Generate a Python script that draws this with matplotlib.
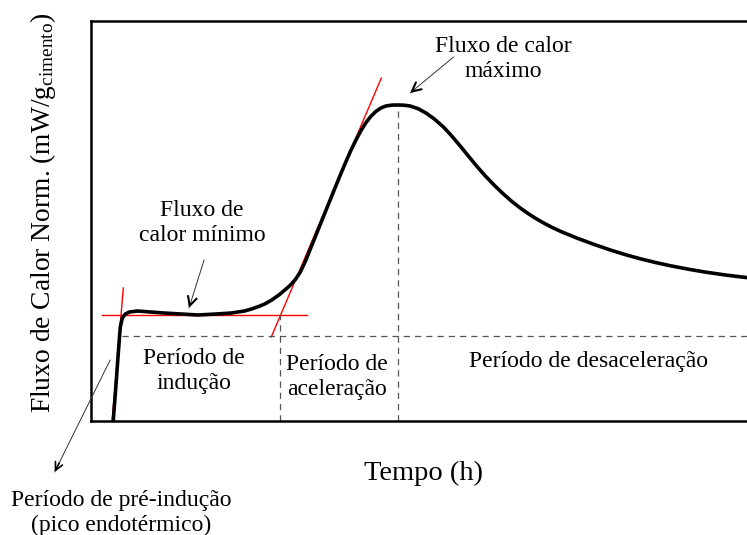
import matplotlib.pyplot as plt

plt.rcParams['font.family'] = ['Liberation Serif', 'DejaVu Serif']
plt.rcParams['mathtext.fontset'] = 'custom'
plt.rcParams['mathtext.rm'] = 'Liberation Serif'
plt.rcParams['mathtext.it'] = 'Liberation Serif:italic'

# curva de fluxo de calor (unidades arbitrarias)
tempo = [22, 24, 26, 28, 29, 31, 34, 38, 46, 59, 72, 89, 106, 124, 139, 152,
         159, 166, 172, 179, 186, 192, 197, 202, 207, 212, 217, 222, 227, 232,
         237, 242, 247, 252, 257, 262, 267, 272, 277, 282, 287, 292, 298, 304,
         310, 316, 324, 332, 340, 349, 357, 366, 374, 382, 390, 399, 407, 416,
         424, 432, 440, 449, 457, 466, 482, 499, 514, 529, 544, 559, 574, 592,
         609, 629, 656]
fluxo = [0, 26, 54, 81, 94, 103, 107, 109, 110, 109, 108, 107, 106, 107, 108,
         110, 112, 114.5, 117, 121, 126, 131, 135.5, 141, 148.5, 159, 171.5,
         184, 196.5, 209, 221.5, 234, 246.3, 258.3, 269.8, 280.3, 289.8, 298,
         304.5, 309.5, 313, 315, 315.9, 316, 315.8, 315, 312.3, 307.8, 302, 294,
         285.3, 274.5, 264.6, 254.8, 245.6, 236.1, 228.3, 220.2, 213.8, 208,
         202.8, 197.6, 193.4, 189.2, 182.6, 176.3, 171.1, 166.4, 162.2, 158.5,
         155.2, 151.7, 148.8, 145.9, 142.6]

# retas tangentes (vermelhas)
tang_pre_t = [21, 32]
tang_pre_q = [1, 133]
tang_min_t = [11, 214]
tang_min_q = [106, 106]
tang_ace_t = [178.5, 287.5]
tang_ace_q = [84, 343]

# limites dos periodos
t_fim_inducao = 187
t_pico = 304
q_base = 85
q_min = 106
q_pico = 316


def seta(ax, ponta, cauda, lw_haste=0.7, lw_ponta=1.5, tam=16):
    ax.annotate('', xy=ponta, xytext=cauda,
                arrowprops=dict(arrowstyle='-', lw=lw_haste, color='#333333',
                                shrinkA=0, shrinkB=0),
                annotation_clip=False)
    meio = (ponta[0] + (cauda[0] - ponta[0]) * 0.08,
            ponta[1] + (cauda[1] - ponta[1]) * 0.08)
    ax.annotate('', xy=ponta, xytext=meio,
                arrowprops=dict(arrowstyle='->', lw=lw_ponta, color='black',
                                mutation_scale=tam, shrinkA=0, shrinkB=0),
                annotation_clip=False)


fig = plt.figure(figsize=(7.47, 5.35), dpi=100)
ax = fig.add_axes([91 / 747, (535 - 421) / 535, 1 - 91 / 747 + 0.01, 400 / 535])
ax.set_xlim(0, 657)
ax.set_ylim(0, 400)

ax.plot(tang_pre_t, tang_pre_q, color='red', lw=1)
ax.plot(tang_min_t, tang_min_q, color='red', lw=1)
ax.plot(tang_ace_t, tang_ace_q, color='red', lw=1)
ax.plot(tempo, fluxo, color='black', lw=2.6, solid_capstyle='round',
        solid_joinstyle='round', zorder=3)

dash = dict(color='#555555', lw=0.9, dashes=(5, 4))
ax.plot([31, 657], [q_base, q_base], **dash)
ax.plot([t_fim_inducao, t_fim_inducao], [0, q_min], **dash)
ax.plot([t_pico, t_pico], [0, q_pico], **dash)

for s in ['left', 'top', 'bottom']:
    ax.spines[s].set_linewidth(1.8)
ax.spines['right'].set_visible(False)
ax.set_xticks([])
ax.set_yticks([])

fs = 17
ax.text(408, 362, 'Fluxo de calor\nmáximo', ha='center', va='center', fontsize=fs, linespacing=1.3)
seta(ax, (316, 328), (359, 364))
ax.text(110, 198, 'Fluxo de\ncalor mínimo', ha='center', va='center', fontsize=fs, linespacing=1.3)
seta(ax, (97, 113), (112, 161))
ax.text(102, 50, 'Período de\nindução', ha='center', va='center', fontsize=fs, linespacing=1.3)
ax.text(243.5, 44, 'Período de\naceleração', ha='center', va='center', fontsize=fs, linespacing=1.3)
ax.text(492.5, 59, 'Período de desaceleração', ha='center', va='center', fontsize=fs)

seta(ax, (-36, -51), (19, 61), lw_haste=0.7, lw_ponta=1.2, tam=14)
fig.text(121 / 747, 1 - 513 / 535, 'Período de pré-indução\n(pico endotérmico)',
         ha='center', va='center', fontsize=fs, linespacing=1.25)

fig.text(423 / 747, 1 - 473 / 535, 'Tempo (h)', ha='center', va='center', fontsize=20.5)
fig.text(43 / 747, 1 - 213 / 535, r'Fluxo de Calor Norm. (mW/g$_{\mathrm{cimento}}$)',
         ha='center', va='center', rotation=90, fontsize=19.8)

fig.savefig('out.png', dpi=100)
